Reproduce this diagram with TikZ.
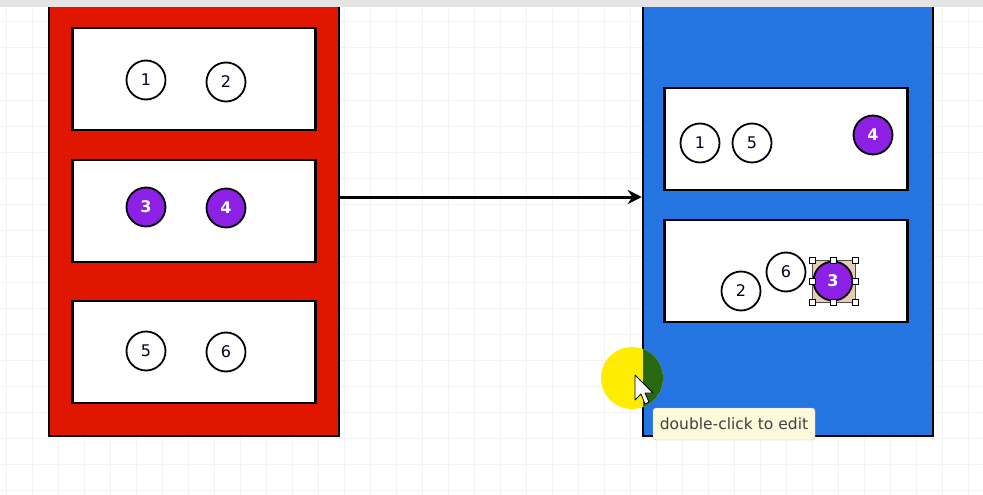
\documentclass[tikz,border=0pt]{standalone}
\usepackage{fontspec}
\setmainfont{DejaVu Sans}
\usepackage{xcolor}
\usetikzlibrary{positioning,arrows.meta}

\definecolor{panelred}{RGB}{224,22,0}
\definecolor{panelblue}{RGB}{36,116,226}
\definecolor{ballpurple}{RGB}{140,32,228}
\definecolor{gridgray}{RGB}{242,242,242}
\definecolor{tipyellow}{RGB}{252,250,218}
\definecolor{clickgreen}{RGB}{40,104,16}

\tikzset{
  panel/.style={draw=black,line width=2.5pt,minimum width=290pt,minimum height=432pt,inner sep=0pt},
  shelf/.style={draw=black,fill=white,line width=2.6pt,minimum width=243pt,minimum height=102pt,inner sep=0pt},
  ball/.style={circle,draw=black,line width=1.8pt,minimum size=39pt,inner sep=0pt,font=\fontsize{16}{16}\selectfont},
  emptyball/.style={ball,fill=white,text=black!85!blue},
  fullball/.style={ball,fill=ballpurple,text=white,font=\bfseries\fontsize{16}{16}\selectfont},
  handle/.style={draw=black,fill=white,line width=0.6pt,minimum size=6pt,inner sep=0pt}
}

\begin{document}
\begin{tikzpicture}[x=1pt,y=-1pt]
  \useasboundingbox (0,0) rectangle (983,495);
  % canvas grid
  \fill[white] (0,0) rectangle (983,495);
  \foreach \gx in {6,32,...,983} { \draw[gridgray,line width=1pt] (\gx,8) -- (\gx,495); }
  \foreach \gy in {22,48,...,495} { \draw[gridgray,line width=1pt] (0,\gy) -- (983,\gy); }
  % left panel (before)
  \node[panel,fill=panelred] (src) at (194,220) {};
  \node[shelf] (s1) at (194,79) {};
  \node[shelf] (s2) at (194,211) {};
  \node[shelf] (s3) at (194,352) {};
  \node[emptyball] (a1) at (146,80) {1};
  \node[emptyball] (a2) at (226,82) {2};
  \node[fullball] (a3) at (146,207) {3};
  \node[fullball] (a4) at (226,208) {4};
  \node[emptyball] (a5) at (146,351) {5};
  \node[emptyball] (a6) at (226,352) {6};
  % right panel (after)
  \node[panel,fill=panelblue] (dst) at (788,220) {};
  \node[shelf] (d1) at (786,139) {};
  \node[shelf] (d2) at (786,271) {};
  \node[emptyball] (b1) at (700,143) {1};
  \node[emptyball] (b5) at (752,143) {5};
  \node[fullball] (b4) at (873,135) {4};
  \node[emptyball] (b2) at (741,291) {2};
  \node[emptyball] (b6) at (786,272) {6};
  % selection round ball 3
  \fill[brown!40!white] (812,260) rectangle (855,302);
  \draw[black!70,line width=0.6pt] (812,260) rectangle (855,302);
  \node[fullball] (b3) at (833,281) {3};
  \foreach \hx in {812,833.5,855} {
    \node[handle] at (\hx,260) {};
    \node[handle] at (\hx,302) {};
  }
  \node[handle] at (812,281) {};
  \node[handle] at (855,281) {};
  % top strip of the editor
  \fill[black!10] (0,0) rectangle (983,7);
  % move arrow
  \draw[line width=3pt,-{Stealth[length=14pt,width=14pt]}]
    ([yshift=23pt]src.east) -- ([yshift=23pt]dst.west);
  % click marker and pointer
  \fill[yellow!95!orange] (632,378) circle (31);
  \begin{scope}
    \clip (643.2,340) rectangle (700,420);
    \fill[clickgreen] (632,378) circle (31);
  \end{scope}
  \draw[black,fill=white,line width=0.8pt,line join=round]
    (635,375) -- (635,400) -- (641,394) -- (645,404) -- (649,402) -- (645,393) -- (653,393) -- cycle;
  % tooltip
  \node[draw=black!25,fill=tipyellow,rounded corners=3pt,minimum width=162pt,minimum height=32pt,
        inner sep=0pt,text=black!75,font=\fontsize{15.5}{15.5}\selectfont] (tip) at (734,424) {double-click to edit};
\end{tikzpicture}
\end{document}
